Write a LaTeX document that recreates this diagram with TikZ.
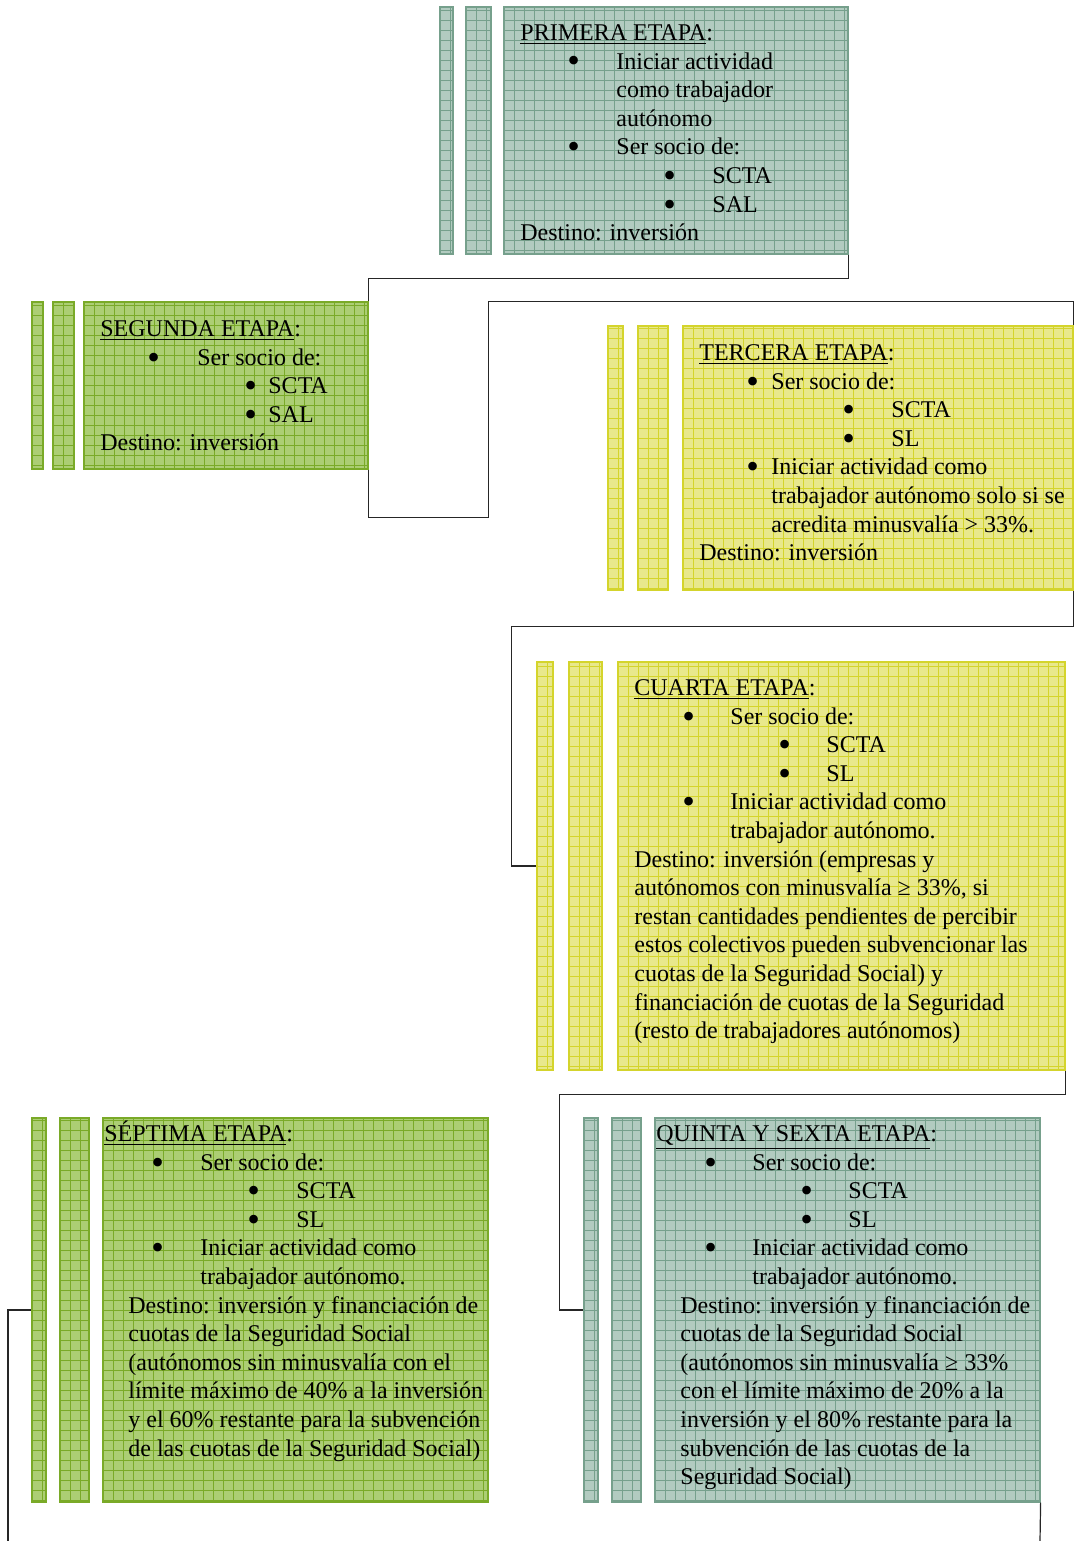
\documentclass[tikz,border=0pt]{standalone}
\usepackage{fontspec}
\setmainfont{Liberation Serif}
\usetikzlibrary{fit}
\definecolor{tealF}{RGB}{178,203,192}
\definecolor{tealL}{RGB}{118,160,140}
\definecolor{grnF}{RGB}{172,206,116}
\definecolor{grnL}{RGB}{122,170,40}
\definecolor{ylwF}{RGB}{232,232,140}
\definecolor{ylwL}{RGB}{212,212,44}
\newcommand{\itm}[3]{\hspace*{#1}\makebox[#2][l]{\hspace*{-1pt}\raisebox{-2pt}[0pt][0pt]{\scalebox{1.5}{\textbullet}}}#3}
\newcommand{\sub}[1]{\hspace*{#1}}

\begin{document}
\begin{tikzpicture}[x=0.5pt,y=-0.5pt,
  etapa/.style={draw=#1L,line width=0.6pt,fill=#1F,inner sep=0pt,
    path picture={\draw[#1L,line width=0.3pt,step=5pt] (path picture bounding box.south west) grid (path picture bounding box.north east);}},
  txt/.style={anchor=north west,inner sep=0pt,align=left,font=\fontsize{12pt}{14.3pt}\selectfont},
  link/.style={draw=black!85,line width=0.6pt}]
\useasboundingbox (0,0) rectangle (1074,1541);
% primera etapa
\node[etapa=teal,fit={(440,7) (453,254)}] (b1a) {};
\node[etapa=teal,fit={(466,7) (491,254)}] (b1b) {};
\node[etapa=teal,fit={(504,7) (848,254)}] (p1) {};
\node[txt] (t1) at (520,18) {\rule{0pt}{11pt}\underline{PRIMERA ETAPA}:\\
  \itm{24.5pt}{23.5pt}{Iniciar actividad}\\ \sub{48pt}como trabajador\\ \sub{48pt}autónomo\\
  \itm{24.5pt}{23.5pt}{Ser socio de:}\\ \itm{72.5pt}{23.5pt}{SCTA}\\ \itm{72.5pt}{23.5pt}{SAL}\\
  Destino: inversión};
% segunda etapa
\node[etapa=grn,fit={(32,302) (43,469)}] (b2a) {};
\node[etapa=grn,fit={(53,302) (74,469)}] (b2b) {};
\node[etapa=grn,fit={(84,302) (368,469)}] (p2) {};
\node[txt] (t2) at (100,314) {\rule{0pt}{11pt}\underline{SEGUNDA ETAPA}:\\
  \itm{24.5pt}{24pt}{Ser socio de:}\\ \itm{73pt}{11pt}{SCTA}\\ \itm{73pt}{11pt}{SAL}\\
  Destino: inversión};
% tercera etapa
\node[etapa=ylw,fit={(608,326) (623,590)}] (b3a) {};
\node[etapa=ylw,fit={(638,326) (668,590)}] (b3b) {};
\node[etapa=ylw,fit={(683,326) (1073,590)}] (p3) {};
\node[txt] (t3) at (699,338) {\rule{0pt}{11pt}\underline{TERCERA ETAPA}:\\
  \itm{24.5pt}{11.5pt}{Ser socio de:}\\ \itm{72.5pt}{23.5pt}{SCTA}\\ \itm{72.5pt}{23.5pt}{SL}\\
  \itm{24.5pt}{11.5pt}{Iniciar actividad como}\\ \sub{36pt}trabajador autónomo solo si se\\ \sub{36pt}acredita minusvalía > 33\%.\\
  Destino: inversión};
% cuarta etapa
\node[etapa=ylw,fit={(537,662) (553,1070)}] (b4a) {};
\node[etapa=ylw,fit={(569,662) (602,1070)}] (b4b) {};
\node[etapa=ylw,fit={(618,662) (1065,1070)}] (p4) {};
\node[txt] (t4) at (634,673) {\rule{0pt}{11pt}\underline{CUARTA ETAPA}:\\
  \itm{25pt}{23pt}{Ser socio de:}\\ \itm{73pt}{23pt}{SCTA}\\ \itm{73pt}{23pt}{SL}\\
  \itm{25pt}{23pt}{Iniciar actividad como}\\ \sub{48pt}trabajador autónomo.\\
  Destino: inversión (empresas y\\ autónomos con minusvalía ≥ 33\%, si\\ restan cantidades pendientes de percibir\\
  estos colectivos pueden subvencionar las\\ cuotas de la Seguridad Social) y\\ financiación de cuotas de la Seguridad\\
  (resto de trabajadores autónomos)};
% quinta y sexta etapa
\node[etapa=teal,fit={(584,1118) (598,1502)}] (b5a) {};
\node[etapa=teal,fit={(612,1118) (641,1502)}] (b5b) {};
\node[etapa=teal,fit={(655,1118) (1040,1502)}] (p5) {};
\node[txt] (t5) at (656,1119) {\rule{0pt}{11pt}\underline{QUINTA Y SEXTA ETAPA}:\\
  \itm{25pt}{23pt}{Ser socio de:}\\ \itm{73pt}{23pt}{SCTA}\\ \itm{73pt}{23pt}{SL}\\
  \itm{25pt}{23pt}{Iniciar actividad como}\\ \sub{48pt}trabajador autónomo.\\
  \sub{12pt}Destino: inversión y financiación de\\ \sub{12pt}cuotas de la Seguridad Social\\
  \sub{12pt}(autónomos sin minusvalía ≥ 33\%\\ \sub{12pt}con el límite máximo de 20\% a la\\
  \sub{12pt}inversión y el 80\% restante para la\\ \sub{12pt}subvención de las cuotas de la\\ \sub{12pt}Seguridad Social)};
% septima etapa
\node[etapa=grn,fit={(32,1118) (46,1502)}] (b7a) {};
\node[etapa=grn,fit={(60,1118) (89,1502)}] (b7b) {};
\node[etapa=grn,fit={(103,1118) (488,1502)}] (p7) {};
\node[txt] (t7) at (104,1119) {\rule{0pt}{11pt}\underline{SÉPTIMA ETAPA}:\\
  \itm{24.5pt}{23.5pt}{Ser socio de:}\\ \itm{72.5pt}{23.5pt}{SCTA}\\ \itm{72.5pt}{23.5pt}{SL}\\
  \itm{24.5pt}{23.5pt}{Iniciar actividad como}\\ \sub{48pt}trabajador autónomo.\\
  \sub{12pt}Destino: inversión y financiación de\\ \sub{12pt}cuotas de la Seguridad Social\\
  \sub{12pt}(autónomos sin minusvalía con el\\ \sub{12pt}límite máximo de 40\% a la inversión\\
  \sub{12pt}y el 60\% restante para la subvención\\ \sub{12pt}de las cuotas de la Seguridad Social)};
% conectores
\coordinate (q) at (1040,1541);
\coordinate (s) at (8,1541);
\draw[link] (p1.south east) -- ++(0,24) -| (p2.north east);
\draw[link] (p2.south east) -- ++(0,48) -- ++(120,0) |- ([yshift=12pt]p3.north east) -- (p3.north east);
\draw[link] (p3.south east) -- ++(0,36) -| ([xshift=-12.5pt]b4a.west) -- (b4a.west);
\draw[link] (p4.south east) -- ++(0,24) -| ([xshift=-12pt]b5a.west) -- (b5a.west);
\draw[link] (p5.south east) -- (q);
\draw[link] (s) |- (b7a.west);
\end{tikzpicture}
\end{document}
